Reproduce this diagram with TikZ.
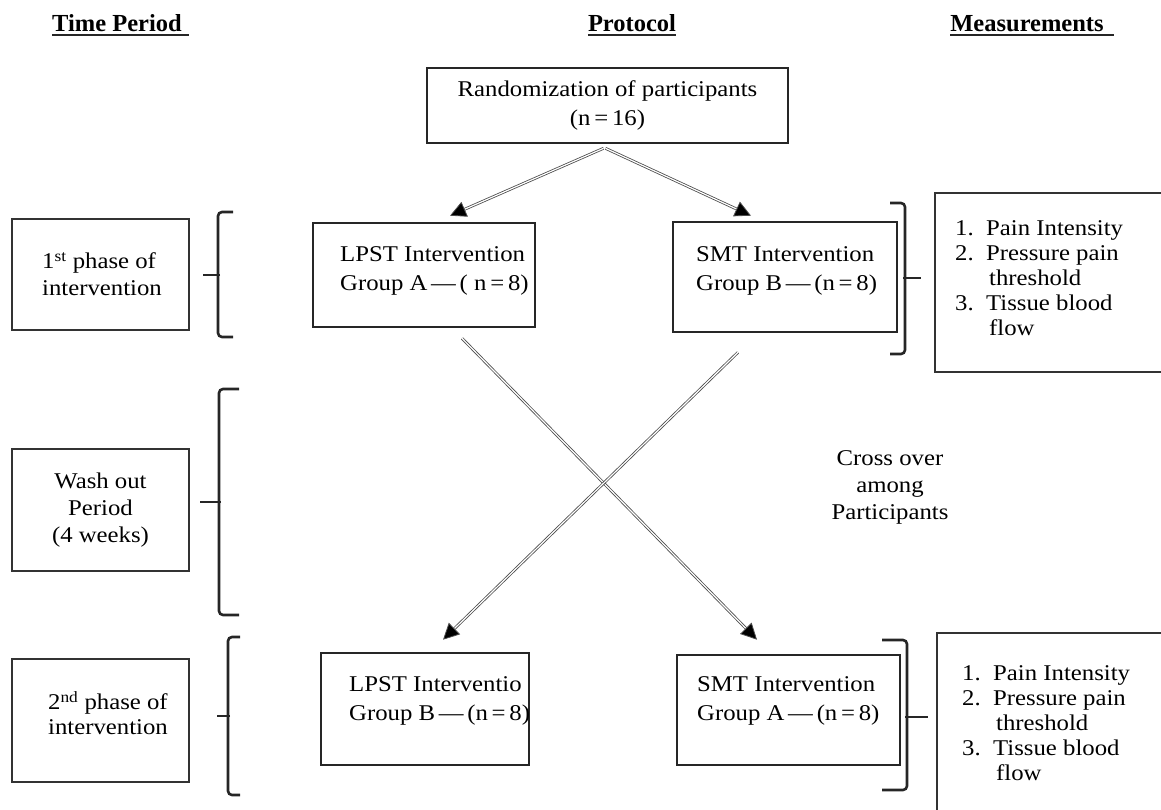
\documentclass[tikz,border=0pt]{standalone}
\usepackage{fontspec}
\setmainfont{Liberation Serif}[FakeStretch=1.1]
\newfontfamily\headfont{Liberation Serif}
\usetikzlibrary{arrows.meta,positioning,calc}
\tikzset{%
  head/.style={%
    anchor=base,
    inner sep=0pt,
    font=\headfont\bfseries\fontsize{24.5}{28}\selectfont
  },
  head line/.style={line width=2pt, black!85},
  group box/.style={draw=black!85, line width=2.6pt, inner sep=0pt},
  phase box/.style={draw=black!80, line width=2pt, inner sep=0pt, align=left},
  measure box/.style={draw=black!80, line width=2pt, inner sep=0pt},
  box text/.style={anchor=north west, inner sep=0pt, align=left},
  bracket/.style={black!85, line width=2.6pt, rounded corners=4pt},
  flow/.style={%
    draw=black!70,
    line width=0.8pt,
    double=white,
    double distance=1.2pt,
    -{Triangle[length=16pt,width=16pt,fill=black]}
  }
}

\begin{document}
\begin{tikzpicture}[x=1pt, y=-1pt, font=\fontsize{22.5}{29}\selectfont]
  \useasboundingbox (0,0) rectangle (1161,809);

  % column headings
  \node[head] (period) at (117,31) {Time Period};
  \node[head] (protocol) at (632,31) {Protocol};
  \node[head] (measure) at (1027,31) {Measurements};
  \draw[head line] ([yshift=-4pt]period.base west) -- ([shift={(7pt,-4pt)}]period.base east);
  \draw[head line] ([yshift=-4pt]protocol.base west) -- ([yshift=-4pt]protocol.base east);
  \draw[head line] ([yshift=-4pt]measure.base west) -- ([shift={(10pt,-4pt)}]measure.base east);

  % protocol
  \node[group box, align=center, minimum width=361pt, minimum height=75pt] (rand) at (607.5,105.5)
    {Randomization of participants\\(n\,=\,16)};
  \node[group box, minimum width=222pt, minimum height=104pt] (lpstA) at (424,275) {};
  \node[box text] (lpstAtxt) at (340,246) {LPST Intervention\\Group A\,---\,( n\,=\,8)};
  \node[group box, minimum width=224pt, minimum height=110pt] (smtB) at (785,277) {};
  \node[box text] (smtBtxt) at (696,246) {SMT Intervention\\Group B\,---\,(n\,=\,8)};
  \node[group box, minimum width=208pt, minimum height=112pt] (lpstB) at (425,709) {};
  \node[box text] (lpstBtxt) at (349,676) {LPST Interventio\\Group B\,---\,(n\,=\,8)};
  \node[group box, minimum width=223pt, minimum height=110pt] (smtA) at (788.5,710) {};
  \node[box text] (smtAtxt) at (697,676) {SMT Intervention\\Group A\,---\,(n\,=\,8)};

  \draw[flow] ([shift={(-4pt,-4pt)}]rand.south) -- ([shift={(26pt,6pt)}]lpstA.north);
  \draw[flow] ([shift={(-2pt,-4pt)}]rand.south) -- ([shift={(-34pt,5pt)}]smtB.north);
  \draw[flow] ([shift={(38pt,-10pt)}]lpstA.south) -- ([shift={(-31.5pt,14pt)}]smtA.north);
  \draw[flow] ([shift={(-47pt,-19pt)}]smtB.south) -- ([shift={(18pt,12pt)}]lpstB.north);

  \node[align=center, font=\fontsize{22.5}{27}\selectfont] (cross) at (890,487)
    {Cross over\\among\\Participants};

  % time periods
  \node[phase box, minimum width=177pt, minimum height=111pt] (phase1) at (100.5,274.5) {};
  \node[box text, font=\fontsize{22.5}{27}\selectfont] (phase1txt) at (42,252)
    {1\textsuperscript{st} phase of\\intervention};
  \node[phase box, align=center, minimum width=177pt, minimum height=122pt,
        font=\fontsize{22.5}{27}\selectfont] (wash) at (100.5,510)
    {Wash out\\Period\\(4 weeks)};
  \node[phase box, minimum width=177pt, minimum height=123pt] (phase2) at (100.5,720.5) {};
  \node[box text, font=\fontsize{22.5}{25}\selectfont] (phase2txt) at (48,691)
    {2\textsuperscript{nd} phase of\\intervention};

  \draw[bracket] (233,212) -- (218,212) -- (218,337) -- (233,337);
  \draw[bracket] (220,275) -- (203,275);
  \draw[bracket] (239,389) -- (219,389) -- (219,615) -- (239,615);
  \draw[bracket] (221,502) -- (200,502);
  \draw[bracket] (240,637) -- (228,637) -- (228,795) -- (240,795);
  \draw[bracket] (230,716) -- (217,716);

  % measurements
  \draw[bracket] (890,203) -- (905,203) -- (905,354) -- (890,354);
  \draw[bracket] (903,278) -- (921,278);
  \draw[bracket] (882,640) -- (907,640) -- (907,790) -- (882,790);
  \draw[bracket] (905,717) -- (928,717);

  \node[measure box, minimum width=265pt, minimum height=179pt] (meas1) at (1067.5,282.5) {};
  \node[box text, font=\fontsize{22.5}{25}\selectfont] (meas1txt) at (955,220)
    {\makebox[31pt][l]{1.}Pain Intensity\\
     \makebox[31pt][l]{2.}Pressure pain\\
     \hspace*{34pt}threshold\\
     \makebox[31pt][l]{3.}Tissue blood\\
     \hspace*{34pt}flow};
  \node[measure box, minimum width=265pt, minimum height=220pt] (meas2) at (1069.5,743) {};
  \node[box text, font=\fontsize{22.5}{25}\selectfont] (meas2txt) at (962,665)
    {\makebox[31pt][l]{1.}Pain Intensity\\
     \makebox[31pt][l]{2.}Pressure pain\\
     \hspace*{34pt}threshold\\
     \makebox[31pt][l]{3.}Tissue blood\\
     \hspace*{34pt}flow};
\end{tikzpicture}
\end{document}
